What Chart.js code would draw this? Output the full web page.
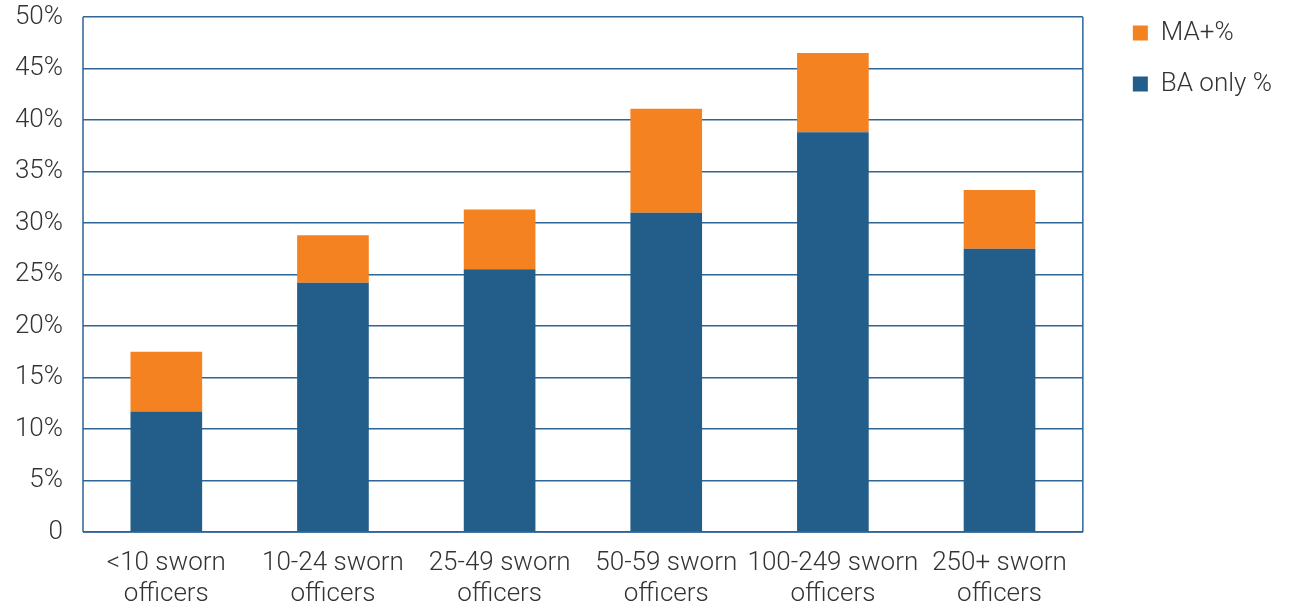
<!DOCTYPE html>
<html>
<head>
<meta charset="utf-8">
<script src="https://cdn.jsdelivr.net/npm/chart.js@4/dist/chart.umd.min.js"></script>
<style>
html,body{margin:0;padding:0;background:#fff;}
#wrap{width:1308px;height:608px;position:relative;}
</style>
</head>
<body>
<div id="wrap"><canvas id="c" width="1308" height="608"></canvas></div>
<script>
const categories = [["<10 sworn","officers"],["10-24 sworn","officers"],["25-49 sworn","officers"],["50-59 sworn","officers"],["100-249 sworn","officers"],["250+ sworn","officers"]];
const baOnly = [11.7, 24.2, 25.5, 31.0, 38.8, 27.5];
const maPlus = [5.8, 4.6, 5.8, 10.1, 7.7, 5.7];
const yTickValues = [0,5,10,15,20,25,30,35,40,45,50];
const yTickLabels = ["0","5%","10%","15%","20%","25%","30%","35%","40%","45%","50%"];

const BLUE = '#235d8a';
const ORANGE = '#f58220';
const GRID = '#2f6496';
const FONT = 'Roboto, "Liberation Sans", sans-serif';

const borderPlugin = {
  id:'borderPlugin',
  afterDatasetsDraw(chart){
    const {ctx, chartArea:a} = chart;
    ctx.save();
    ctx.strokeStyle = GRID;
    ctx.lineWidth = 1.5;
    ctx.beginPath();
    ctx.moveTo(a.left, a.top); ctx.lineTo(a.left, a.bottom);
    ctx.moveTo(a.right, a.top); ctx.lineTo(a.right, a.bottom);
    ctx.moveTo(a.left, a.bottom); ctx.lineTo(a.right, a.bottom);
    ctx.stroke();
    ctx.restore();
  }
};

new Chart(document.getElementById('c'), {
  type:'bar',
  data:{
    labels: categories,
    datasets:[
      {label:'BA only %', data: baOnly, backgroundColor: BLUE, barPercentage:0.43, categoryPercentage:1},
      {label:'MA+%', data: maPlus, backgroundColor: ORANGE, barPercentage:0.43, categoryPercentage:1}
    ]
  },
  options:{
    responsive:false,
    animation:false,
    layout:{padding:{top:-5, right:26, bottom:0, left:0}},
    plugins:{
      tooltip:{enabled:false},
      legend:{
        position:'right',
        align:'start',
        reverse:true,
        labels:{
          boxWidth:15, boxHeight:15, padding:25,
          color:'#333',
          font:{family:FONT, size:26, weight:300}
        }
      }
    },
    scales:{
      x:{
        stacked:true,
        afterFit(axis){ axis.height = 76; },
        grid:{display:false, drawTicks:false},
        border:{display:false},
        ticks:{color:'#333', font:{family:FONT, size:26, weight:300, lineHeight:1.2}, maxRotation:0, autoSkip:false, padding:16}
      },
      y:{
        stacked:true,
        min:0, max:50,
        afterBuildTicks(axis){ axis.ticks = yTickValues.map(v=>({value:v})); },
        afterFit(axis){ axis.width = 83; axis.paddingTop = 17; axis.paddingBottom = 0; },
        grid:{color:GRID, lineWidth:1.5, drawTicks:false},
        border:{display:false},
        ticks:{
          color:'#333', padding:20,
          font:{family:FONT, size:26, weight:300},
          callback:(v)=> yTickLabels[yTickValues.indexOf(v)]
        }
      },
      y2:{
        position:'right',
        min:0, max:50,
        afterFit(axis){ axis.width = 25; axis.paddingTop = 0; axis.paddingBottom = 0; },
        grid:{display:false, drawTicks:false},
        border:{display:false},
        ticks:{display:false}
      }
    }
  },
  plugins:[borderPlugin]
});
</script>
</body>
</html>
